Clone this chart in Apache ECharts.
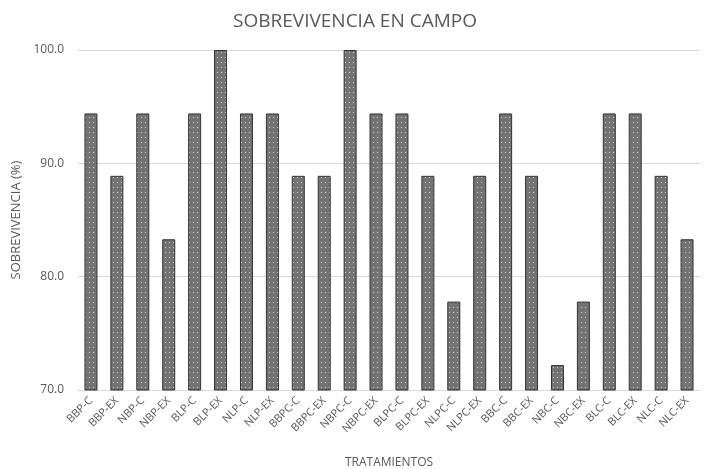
<!DOCTYPE html>
<html lang="es">
<head>
    <meta charset="UTF-8">
    <title>Sobrevivencia en campo</title>
    <style>
        * { margin: 0; padding: 0; }
        html, body { width: 710px; height: 469px; background: #fff; }
        #chart { width: 710px; height: 469px; }
    </style>
</head>
<body>
    <div id="chart"></div>
    <script src="https://cdn.jsdelivr.net/npm/echarts@6/dist/echarts.min.js"></script>
    <script>
        var tratamientos = ["BBP-C", "BBP-EX", "NBP-C", "NBP-EX", "BLP-C", "BLP-EX", "NLP-C", "NLP-EX",
            "BBPC-C", "BBPC-EX", "NBPC-C", "NBPC-EX", "BLPC-C", "BLPC-EX", "NLPC-C", "NLPC-EX",
            "BBC-C", "BBC-EX", "NBC-C", "NBC-EX", "BLC-C", "BLC-EX", "NLC-C", "NLC-EX"];
        var sobrevivencia = [94.4, 88.9, 94.4, 83.3, 94.4, 100, 94.4, 94.4,
            88.9, 88.9, 100, 94.4, 94.4, 88.9, 77.8, 88.9,
            94.4, 88.9, 72.2, 77.8, 94.4, 94.4, 88.9, 83.3];
        var yTicks = [70, 80, 90, 100];

        // relleno gris con puntos blancos
        function makePattern() {
            var c = document.createElement("canvas");
            c.width = 4;
            c.height = 5;
            var ctx = c.getContext("2d");
            ctx.fillStyle = "#737373";
            ctx.fillRect(0, 0, 4, 5);
            ctx.fillStyle = "#d0d0d0";
            ctx.fillRect(1, 2, 1, 1);
            return c;
        }

        var font = "Open Sans";
        var chart = echarts.init(document.getElementById("chart"));
        chart.setOption({
            animation: false,
            title: {
                text: "SOBREVIVENCIA EN CAMPO",
                left: "center",
                top: 7,
                textStyle: { fontFamily: font, fontSize: 19, fontWeight: "normal", color: "#595959" }
            },
            grid: { left: 78, right: 10, top: 50, bottom: 79, outerBoundsMode: "none" },
            xAxis: {
                type: "category",
                data: tratamientos,
                name: "TRATAMIENTOS",
                nameLocation: "middle",
                nameGap: 67,
                nameTextStyle: { fontFamily: font, fontSize: 12, color: "#595959" },
                axisLine: { lineStyle: { color: "#d9d9d9" } },
                axisTick: { show: false },
                axisLabel: { rotate: 45, interval: 0, fontFamily: font, fontSize: 11, color: "#595959", margin: 9 }
            },
            yAxis: {
                type: "value",
                min: yTicks[0],
                max: yTicks[yTicks.length - 1],
                interval: 10,
                name: "SOBREVIVENCIA (%)",
                nameLocation: "middle",
                nameGap: 45,
                nameTextStyle: { fontFamily: font, fontSize: 13, color: "#595959" },
                axisLine: { show: false },
                axisTick: { show: false },
                splitLine: { lineStyle: { color: "#d9d9d9" } },
                axisLabel: {
                    fontFamily: font, fontSize: 12, color: "#595959", margin: 14,
                    formatter: function (v) { return v.toFixed(1); }
                }
            },
            series: [{
                type: "bar",
                data: sobrevivencia,
                barWidth: 13,
                itemStyle: {
                    color: { image: makePattern(), repeat: "repeat" },
                    borderColor: "#333333",
                    borderWidth: 1
                }
            }]
        });
    </script>
</body>
</html>
